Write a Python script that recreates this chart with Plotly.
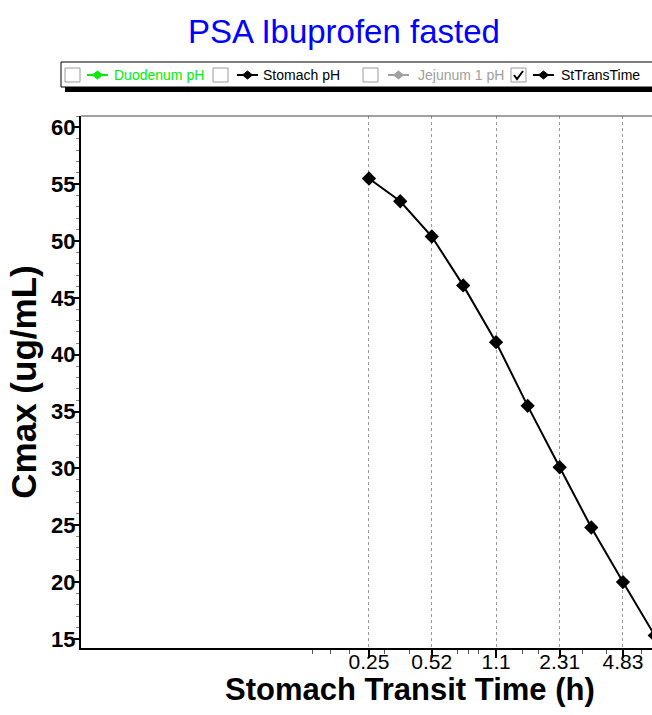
import plotly.graph_objects as go

# ---- data ----
transit_time_h = [0.25, 0.36, 0.52, 0.75, 1.1, 1.59, 2.31, 3.34, 4.83, 7.0]
cmax_ug_ml = [55.5, 53.5, 50.4, 46.1, 41.1, 35.5, 30.1, 24.8, 20.0, 15.3]
x_tick_vals = [0.25, 0.52, 1.1, 2.31, 4.83]
x_tick_text = ["0.25", "0.52", "1.1", "2.31", "4.83"]
y_tick_vals = [15, 20, 25, 30, 35, 40, 45, 50, 55, 60]
legend_names = ["Duodenum pH", "Stomach pH", "Jejunum 1 pH", "StTransTime"]
legend_colors = ["#00ee00", "#000000", "#a0a0a0", "#000000"]
legend_checked = [False, False, False, True]

W, H = 652, 715
L, R, T, B = 81, 0, 116, 67
PW, PH = W - L - R, H - T - B


def px(x):
    return (x - L) / PW


def py(y):
    return (H - B - y) / PH


FONT = "Arial, Liberation Sans, sans-serif"

fig = go.Figure()
fig.add_trace(go.Scatter(
    x=transit_time_h, y=cmax_ug_ml, mode="lines+markers",
    line=dict(color="black", width=2),
    marker=dict(symbol="diamond", size=11, color="black"),
    name="StTransTime", showlegend=False,
))

shapes = []
annotations = []

# top thin border of plot area
shapes.append(dict(type="line", xref="paper", yref="paper", x0=0, x1=1, y0=1, y1=1,
                   line=dict(color="#444444", width=1)))

# custom legend box with shadow
shapes.append(dict(type="rect", xref="paper", yref="paper",
                   x0=px(65), x1=px(720), y0=py(92), y1=py(80),
                   fillcolor="black", line=dict(width=0)))
shapes.append(dict(type="rect", xref="paper", yref="paper",
                   x0=px(61), x1=px(720), y0=py(87), y1=py(62),
                   fillcolor="white", line=dict(color="black", width=1)))

box_x = [65, 213, 363, 511]
icon_x = [87, 237, 388, 533]
text_x = [112, 261, 416, 559]
cy = 75
for i in range(4):
    bx = box_x[i]
    shapes.append(dict(type="rect", xref="paper", yref="paper",
                       x0=px(bx), x1=px(bx + 15), y0=py(cy + 7), y1=py(cy - 7),
                       fillcolor="white", line=dict(color="#9a9a9a", width=1)))
    if legend_checked[i]:
        path = "M {} {} L {} {} L {} {}".format(
            px(bx + 3), py(cy), px(bx + 6), py(cy + 4), px(bx + 12), py(cy - 4))
        shapes.append(dict(type="path", xref="paper", yref="paper", path=path,
                           line=dict(color="black", width=2)))
    ix = icon_x[i]
    col = legend_colors[i]
    shapes.append(dict(type="line", xref="paper", yref="paper",
                       x0=px(ix), x1=px(ix + 21), y0=py(cy), y1=py(cy),
                       line=dict(color=col, width=2)))
    mx = ix + 10.5
    dpath = "M {} {} L {} {} L {} {} L {} {} Z".format(
        px(mx - 5), py(cy), px(mx), py(cy - 4), px(mx + 5), py(cy), px(mx), py(cy + 4))
    shapes.append(dict(type="path", xref="paper", yref="paper", path=dpath,
                       fillcolor=col, line=dict(color=col, width=1)))
    annotations.append(dict(xref="paper", yref="paper", x=px(text_x[i]), y=py(cy),
                            xanchor="left", yanchor="middle", showarrow=False,
                            text=legend_names[i],
                            font=dict(family=FONT, size=14, color=col)))

# title
annotations.append(dict(xref="paper", yref="paper", x=px(344), y=py(31),
                        xanchor="center", yanchor="middle", showarrow=False,
                        text="PSA Ibuprofen fasted",
                        font=dict(family=FONT, size=33, color="#0000ff")))
# x axis title
annotations.append(dict(xref="paper", yref="paper", x=px(410), y=py(689),
                        xanchor="center", yanchor="middle", showarrow=False,
                        text="<b>Stomach Transit Time (h)</b>",
                        font=dict(family=FONT, size=31, color="black")))

fig.update_layout(
    width=W, height=H,
    margin=dict(l=L, r=R, t=T, b=B, pad=0),
    paper_bgcolor="white", plot_bgcolor="white",
    showlegend=False,
    shapes=shapes, annotations=annotations,
    xaxis=dict(
        type="log", range=[-2.06, 0.831],
        tickmode="array", tickvals=x_tick_vals, ticktext=x_tick_text,
        ticks="outside", ticklen=8, tickwidth=2, tickcolor="black",
        ticklabelstandoff=-14,
        showline=True, linecolor="black", linewidth=2,
        showgrid=True, gridcolor="#999999", griddash="3px,3px", gridwidth=1,
        zeroline=False,
        tickfont=dict(family=FONT, size=21, color="black"),
        minor=dict(tickmode="array",
                   tickvals=[0.13, 0.16, 0.2, 0.3, 0.4, 0.7, 0.8, 0.9, 1.5, 1.8, 3, 4, 6],
                   ticks="outside", ticklen=4, tickcolor="#555555", tickwidth=1,
                   showgrid=False),
    ),
    yaxis=dict(
        range=[14.2, 61.0],
        tickmode="array", tickvals=y_tick_vals,
        ticks="outside", ticklen=5, tickwidth=2, tickcolor="black",
        ticklabelstandoff=-6,
        showline=True, linecolor="black", linewidth=2,
        showgrid=False, zeroline=False,
        tickfont=dict(family=FONT, size=22, color="black", weight="bold"),
        minor=dict(dtick=1, ticks="outside", ticklen=3, tickcolor="#888888",
                   tickwidth=1, showgrid=False),
        title=dict(text="<b>Cmax (ug/mL)</b>", standoff=4,
                   font=dict(family=FONT, size=35, color="black")),
    ),
)

fig.write_html("out.html")
